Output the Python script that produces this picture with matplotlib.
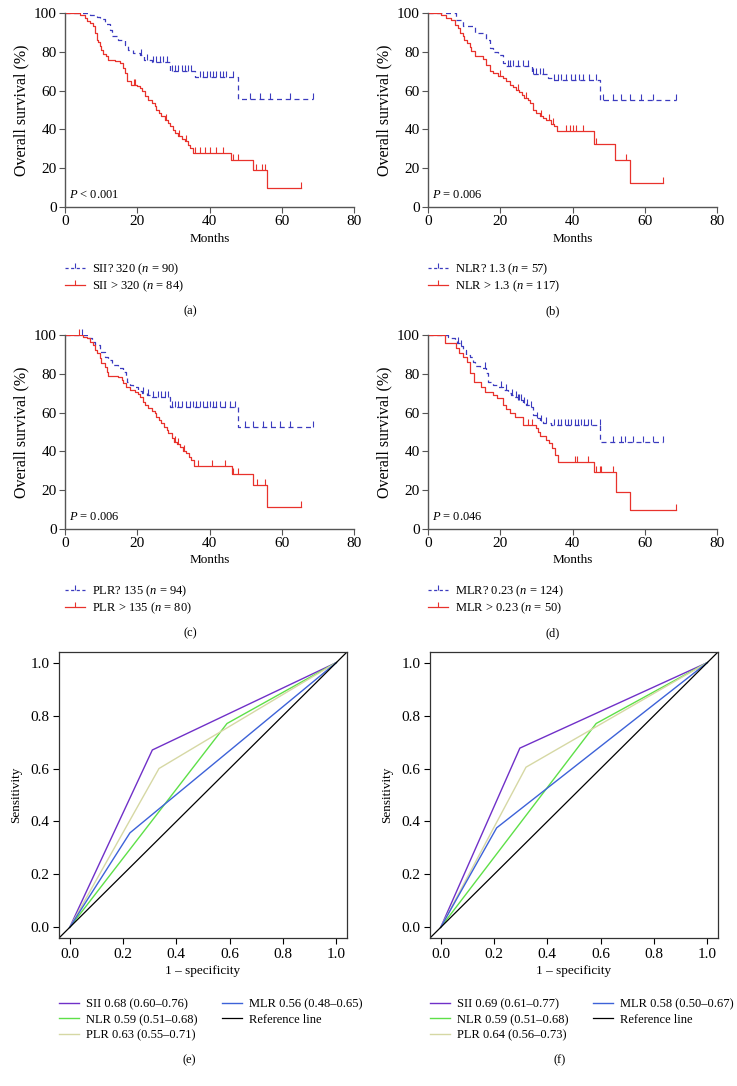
import numpy as np
import matplotlib
matplotlib.use("Agg")
import matplotlib.pyplot as plt
from matplotlib.lines import Line2D

plt.rcParams['font.family'] = ['Liberation Serif', 'DejaVu Serif']
plt.rcParams['mathtext.fontset'] = 'custom'
plt.rcParams['mathtext.it'] = 'Liberation Serif:italic'
plt.rcParams['mathtext.rm'] = 'Liberation Serif'
plt.rcParams['font.size'] = 9

BLUE = '#3b3bbf'
RED = '#e8322c'
TICK_UP = [(0, 0), (0, 1)]   # censor mark drawn upward from the curve

# ---- Kaplan-Meier data (time in months, survival % after each event) ----
sii_lo_t = [7, 8.8, 9.7, 11, 12.4, 12.9, 14.7, 16.6, 17.5, 18.9, 20.7, 22, 24, 29, 36, 48]
sii_lo_s = [98.9, 97.8, 96.7, 94.5, 91.4, 88, 86, 83.7, 81, 79.4, 78.5, 76, 75, 70, 67, 55.7]
sii_lo_c = [20.9, 22.6, 24.4, 25.3, 26.3, 27.2, 28.1, 29.5, 30.4, 31.3, 32.3, 33.2, 34.1, 35.0,
            37.3, 38.2, 39.2, 40.1, 41, 41.9, 42.9, 43.8, 44.7, 46.5, 51.2, 53.9, 56.7, 62.2, 68.7]
sii_hi_t = [4.1, 5.5, 6, 6.9, 7.8, 8.3, 8.8, 9.2, 9.7, 10.1, 10.6, 11.3, 12, 13.8, 15.2, 16.1, 16.6,
            17.1, 18.4, 19.8, 20.7, 21.2, 22.1, 23, 24, 24.9, 25.3, 26.1, 26.7, 27.6, 28.6, 29.2,
            29.8, 30.4, 31.3, 32.3, 33.2, 34.1, 34.6, 35.3, 45.9, 52.1, 55.8]
sii_hi_s = [99, 97.4, 95.7, 94.8, 93.1, 89.7, 86, 84.9, 82.8, 81, 79, 77.7, 76, 75.1, 74.2, 71.6, 69,
            64.8, 63, 62.5, 61.3, 59.6, 57, 55.3, 53.6, 51.9, 50.2, 48.5, 46.7, 45, 43.3, 41.6,
            39.9, 38.1, 36.4, 35.1, 33.8, 32.1, 30.4, 27.8, 24.4, 19.2, 9.8]
sii_hi_c = [19, 19.5, 28, 31.5, 33.5, 35.9, 37.3, 38.7, 40.1, 41.9, 43.8, 46.5, 47.9, 53, 54.4, 55.3, 65.2]

nlr_lo_t = [7.8, 9.7, 12.9, 16.1, 17.1, 18, 19.4, 20.7, 21.7, 28.8, 33.2, 34.6, 47.7]
nlr_lo_s = [96.6, 93.1, 89.7, 86.3, 82, 79.7, 78.5, 74.2, 72.5, 68.7, 66.5, 65.3, 55.3]
nlr_lo_c = [22.1, 22.6, 23.5, 24.9, 26.3, 27.6, 29.2, 30, 30.9, 31.8, 35, 35.9, 36.9, 38.2, 39.6,
            40.6, 41.9, 42.9, 44.7, 46.5, 48.4, 51.2, 53.5, 55.8, 59, 62.2, 68.7]
nlr_hi_t = [3.7, 5.1, 6.5, 7.4, 8.3, 8.8, 9.7, 10.1, 10.8, 11.5, 12, 12.9, 15.2, 16.1, 17.1, 18,
            19.4, 20.7, 21.7, 22.6, 23.5, 24.4, 25.3, 26, 26.7, 27.6, 28.1, 29, 30, 30.9, 31.8,
            32.7, 34.1, 35, 35.7, 45.9, 51.9, 55.8]
nlr_hi_s = [99, 97.5, 96.6, 94, 92.3, 89.7, 88, 86.3, 84.5, 82.5, 80.2, 78, 76.3, 73.4, 70, 69,
            67.7, 66.5, 64.8, 63, 61.9, 60.5, 59.1, 57.9, 56.2, 55.3, 53.6, 50.2, 48.5, 47.1, 45.9,
            44.7, 43, 41.6, 39, 32.5, 24.4, 12.4]
nlr_hi_c = [20, 25, 27, 31.3, 33.5, 34.6, 38.2, 39.2, 40.1, 41, 42.9, 46.5, 54.8, 65]

plr_lo_t = [6.5, 7.4, 8.3, 9.7, 11, 12, 12.9, 14.7, 16.1, 16.9, 17.1, 18, 18.9, 20.3, 21.2, 22.6, 24, 29, 47.9]
plr_lo_s = [98.3, 96.6, 94.8, 91.4, 88.8, 87.1, 84.5, 82.8, 81.1, 78.5, 75.9, 74.2, 73.4, 71.3, 70.3,
            69.1, 68.2, 63, 52.4]
plr_lo_c = [4.6, 21.7, 23, 24.4, 25.8, 26.7, 27.6, 28.6, 29.5, 30.4, 31.3, 32.3, 33.6, 34.6, 35.5,
            36.4, 37.3, 38.2, 39.2, 40.1, 41, 41.9, 42.9, 44.2, 45.6, 47, 49.8, 52.1, 54.8, 57.1,
            59.4, 62.2, 68.7]
plr_hi_t = [5.1, 6, 6.9, 7.8, 8.3, 8.8, 9.7, 10.1, 11.1, 11.5, 12, 14.7, 15.7, 16.1, 16.9, 18,
            19.4, 20.3, 20.7, 21.5, 22.1, 23, 24, 24.9, 25.3, 26.1, 26.7, 27.4, 28.1, 28.6, 29.5,
            30.1, 30.9, 31.8, 32.7, 33.6, 34.4, 35, 35.7, 46.1, 52.1, 55.9]
plr_hi_s = [99.1, 98.3, 96.6, 94.8, 92.3, 90.5, 88, 85.4, 83.7, 81.1, 78.9, 78.2, 76.8, 75.1, 73.4,
            71.6, 70.8, 69.6, 67.9, 65.6, 63.9, 62.2, 61, 59.6, 57.9, 56.2, 54.5, 52.7, 51, 49.3,
            46.7, 45, 43.8, 42.1, 40.4, 39, 37.3, 35.6, 32.5, 28.4, 22.7, 11.5]
plr_hi_c = [4, 30.5, 31.2, 33, 36.9, 40.6, 44.2, 46.5, 47.9, 53.2, 55.3, 65.2]

mlr_lo_t = [5.5, 6.5, 7.4, 8.1, 8.8, 9.7, 10.6, 11.5, 12.4, 12.9, 14.3, 16.1, 16.6, 18, 19.4,
            20.7, 22.1, 23, 23.9, 24.9, 26.2, 27.2, 28.1, 29, 30, 30.9, 31.8, 34.1, 47.7]
mlr_lo_s = [99.1, 98.3, 97.1, 95.7, 94.3, 92.3, 89.7, 88.5, 86.3, 84, 82.8, 80.2, 75.9, 74.2, 73.4,
            71.6, 70.3, 69.1, 67.9, 66.5, 65.1, 63.9, 62.7, 58.8, 57, 55.8, 54.8, 53.6, 45]
mlr_lo_c = [8.3, 9.2, 15.7, 20.3, 21.5, 23.3, 24.4, 24.9, 25.3, 25.8, 26.5, 27.5, 28.4, 30.3, 31.3,
            32.7, 35, 35.9, 36.9, 37.8, 38.7, 39.6, 40.6, 41.5, 42.4, 43.3, 44.2, 45.2, 47.5, 51.2,
            53.5, 54.4, 56.7, 59.4, 62.2, 65]
mlr_hi_t = [4.6, 7.8, 8.6, 9.8, 10.9, 11.5, 12.7, 14.7, 15.9, 18, 19.1, 20.7, 21.7, 22.8, 24.2,
            26.2, 29.8, 30.4, 31.1, 32.7, 33.4, 34.2, 35.2, 36, 45.9, 52.1, 55.9]
mlr_hi_s = [95.7, 93.1, 90.5, 88.8, 86.3, 80.2, 75.9, 73.4, 70.8, 69.1, 67.4, 63.9, 61.7, 60, 57.9,
            53.6, 51.9, 50.2, 47.9, 45.9, 44.2, 41.6, 38.1, 34.7, 29.6, 19.2, 9.8]
mlr_hi_c = [27.8, 28.8, 40.6, 41.2, 44.2, 46.5, 47.5, 48, 51.2, 68.7]

km_panels = [
    ('(a)', '< 0.001', (sii_lo_t, sii_lo_s, sii_lo_c), (sii_hi_t, sii_hi_s, sii_hi_c),
     ['SII? 320 ($n$ = 90)', 'SII > 320 ($n$ = 84)']),
    ('(b)', '= 0.006', (nlr_lo_t, nlr_lo_s, nlr_lo_c), (nlr_hi_t, nlr_hi_s, nlr_hi_c),
     ['NLR? 1.3 ($n$ = 57)', 'NLR > 1.3 ($n$ = 117)']),
    ('(c)', '= 0.006', (plr_lo_t, plr_lo_s, plr_lo_c), (plr_hi_t, plr_hi_s, plr_hi_c),
     ['PLR? 135 ($n$ = 94)', 'PLR > 135 ($n$ = 80)']),
    ('(d)', '= 0.046', (mlr_lo_t, mlr_lo_s, mlr_lo_c), (mlr_hi_t, mlr_hi_s, mlr_hi_c),
     ['MLR? 0.23 ($n$ = 124)', 'MLR > 0.23 ($n$ = 50)']),
]

# ---- ROC data (single cut-off points) ----
roc_names = ['SII', 'NLR', 'PLR', 'MLR']
roc_colors = ['#7030c8', '#5ee048', '#d6d8a4', '#3d62d8']
roc_e_fpr = [0.31, 0.59, 0.335, 0.226]
roc_e_tpr = [0.67, 0.77, 0.60, 0.357]
roc_e_auc = ['0.68 (0.60\u20130.76)', '0.59 (0.51\u20130.68)', '0.63 (0.55\u20130.71)', '0.56 (0.48\u20130.65)']
roc_f_fpr = [0.297, 0.583, 0.32, 0.21]
roc_f_tpr = [0.677, 0.77, 0.605, 0.376]
roc_f_auc = ['0.69 (0.61\u20130.77)', '0.59 (0.51\u20130.68)', '0.64 (0.56\u20130.73)', '0.58 (0.50\u20130.67)']


def km_curve(ax, t, s, c, color, ls):
    end = max(max(c), t[-1])
    xs = [0] + list(t) + [end]
    ys = [100] + list(s) + [s[-1]]
    if ls == '--':
        ax.step(xs, ys, where='post', color=color, ls='--', dashes=(4, 3), lw=0.9)
    else:
        ax.step(xs, ys, where='post', color=color, lw=0.9)
    idx = np.searchsorted(np.array(t), np.array(c), side='right')
    sv = np.concatenate([[100], s])[idx]
    ax.plot(c, sv, ls='none', marker=TICK_UP, ms=8, mew=0.8, color=color, clip_on=False)


fig = plt.figure(figsize=(7.37, 10.86), dpi=100)

W = 737.0
H = 1086.0
km_pos = [(65, 207), (428, 207), (65, 529), (428, 529)]
for (label, ptxt, lo, hi, legtxt), (x0, y0) in zip(km_panels, km_pos):
    ax = fig.add_axes([x0 / W, 1 - y0 / H, 289 / W, 194 / H])
    km_curve(ax, *lo, BLUE, '--')
    km_curve(ax, *hi, RED, '-')
    ax.set_xlim(0, 80)
    ax.set_ylim(0, 100)
    ax.set_xticks([0, 20, 40, 60, 80])
    ax.set_yticks([0, 20, 40, 60, 80, 100])
    for sp in ['top', 'right']:
        ax.spines[sp].set_visible(False)
    for sp in ['left', 'bottom']:
        ax.spines[sp].set_color('#555555')
        ax.spines[sp].set_linewidth(1.0)
    ax.tick_params(direction='out', length=4, width=0.8, color='#555555', labelsize=11, pad=2)
    ax.set_xlabel('Months', fontsize=9.5, labelpad=3)
    ax.set_ylabel('Overall survival (%)', fontsize=11.5, labelpad=3)
    ax.text(1, 3, '$P$ ' + ptxt, fontsize=9, va='bottom', ha='left')
    handles = [Line2D([], [], color=BLUE, ls='--', dashes=(2.5, 2), lw=0.9, marker=TICK_UP, ms=7, mew=0.8),
               Line2D([], [], color=RED, ls='-', lw=0.9, marker=TICK_UP, ms=7, mew=0.8)]
    ax.legend(handles, legtxt, loc='upper left', bbox_to_anchor=(0.0, -0.28), frameon=False,
              fontsize=9, handlelength=1.6, handletextpad=0.55, labelspacing=0.12, borderaxespad=0,
              borderpad=0)
    fig.text((x0 + 125) / W, 1 - (y0 + 104) / H, label, ha='center', va='center', fontsize=9)

roc_sets = [('(e)', 59, roc_e_fpr, roc_e_tpr, roc_e_auc), ('(f)', 430, roc_f_fpr, roc_f_tpr, roc_f_auc)]
for label, x0, fpr, tpr, auc in roc_sets:
    ax = fig.add_axes([x0 / W, 1 - 938 / H, 288 / W, 286 / H])
    handles = []
    for name, col, fx, ty, a in zip(roc_names, roc_colors, fpr, tpr, auc):
        h, = ax.plot([0, fx, 1], [0, ty, 1], color=col, lw=1.0, label=name + ' ' + a)
        handles.append(h)
    h, = ax.plot([-0.04, 1.04], [-0.04, 1.04], color='black', lw=0.9, label='Reference line')
    handles.append(h)
    ax.set_xlim(-0.04, 1.04)
    ax.set_ylim(-0.04, 1.04)
    ticks = [0, 0.2, 0.4, 0.6, 0.8, 1.0]
    ax.set_xticks(ticks)
    ax.set_yticks(ticks)
    ax.set_xticklabels(['%.1f' % v for v in ticks])
    ax.set_yticklabels(['%.1f' % v for v in ticks])
    for sp in ax.spines.values():
        sp.set_color('#333333')
        sp.set_linewidth(0.9)
    ax.tick_params(direction='out', length=4, width=0.8, labelsize=11, pad=3)
    ax.set_xlabel('1 \u2013 specificity', fontsize=9.5, labelpad=3)
    ax.set_ylabel('Sensitivity', fontsize=9.5, labelpad=6)
    ax.legend(handles=handles, ncol=2, loc='upper left', bbox_to_anchor=(0.0, -0.21), frameon=False,
              fontsize=9, handlelength=1.6, handletextpad=0.55, labelspacing=0.3, columnspacing=2.0,
              borderaxespad=0, borderpad=0)
    fig.text((x0 + 130) / W, 1 - 1060 / H, label, ha='center', va='center', fontsize=9)

fig.savefig('out.png', dpi=100)
